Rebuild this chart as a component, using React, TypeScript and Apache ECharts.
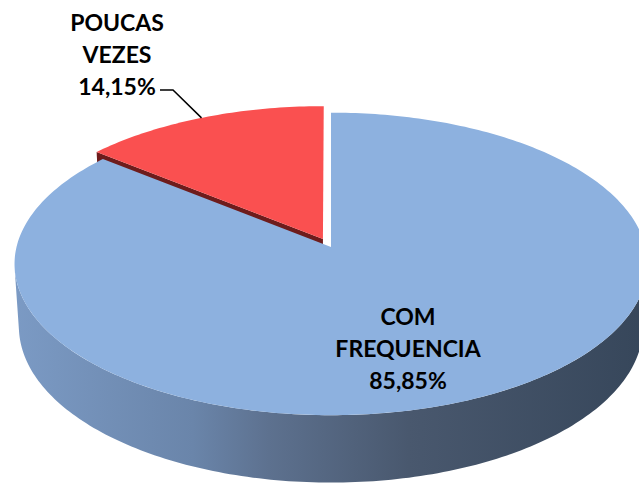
import React, { useEffect, useRef } from "react";
import * as echarts from "echarts";

// ---- data ----
const categories: string[] = ["COM\nFREQUENCIA", "POUCAS\nVEZES"];
const values: number[] = [85.85, 14.15];
const exploded: boolean[] = [false, true];
const topColors: string[] = ["#8DB1DF", "#FA5050"];
const cutColors: string[] = ["#4A5C76", "#6E1C1C"];

const fmt = (v: number) => v.toFixed(2).replace(".", ",") + "%";

export default function App() {
  const ref = useRef<HTMLDivElement>(null);

  useEffect(() => {
    document.body.style.margin = "0";
    if (!ref.current) return;
    const chart = echarts.init(ref.current, undefined, { renderer: "svg" });

    const cx = 331;
    const cy = 247;
    const tilt = Math.asin(0.475);
    const C = Math.cos(tilt);
    const S = Math.sin(tilt);
    const D = 7.87;
    const F = 2475;
    const H = 0.228;
    const EXPLODE = 0.06;
    const visThresh = (Math.asin(1 / (D * C)) * 180) / Math.PI;

    const project = (X: number, Y: number, Z: number): number[] => {
      const v = Y * S - Z * C;
      const depth = D - (Y * C + Z * S);
      return [cx + (F * X) / depth, cy + (F * v) / depth];
    };
    const rad = (d: number) => (d * Math.PI) / 180;

    const total = values.reduce((a, b) => a + b, 0);
    const slices = values.map((v, i) => {
      const cum = values.slice(0, i).reduce((a, b) => a + b, 0);
      const start = 270 + (360 * cum) / total;
      const end = start + (360 * v) / total;
      const mid = (start + end) / 2;
      const e = exploded[i] ? EXPLODE : 0;
      return { start, end, mid, ox: e * Math.cos(rad(mid)), oy: e * Math.sin(rad(mid)) };
    });
    const order = slices
      .map((s, i) => ({ i, y: s.oy + 0.001 * Math.sin(rad(s.mid)) }))
      .sort((a, b) => a.y - b.y)
      .map((o) => o.i);

    const arcPts = (s: any, a0: number, a1: number, Z: number) => {
      const pts: number[][] = [];
      const n = Math.max(2, Math.ceil(Math.abs(a1 - a0)));
      for (let k = 0; k <= n; k++) {
        const a = rad(a0 + ((a1 - a0) * k) / n);
        pts.push(project(s.ox + Math.cos(a), s.oy + Math.sin(a), Z));
      }
      return pts;
    };

    const wallGrad = new echarts.graphic.LinearGradient(
      15, 0, 650, 0,
      [
        { offset: 0, color: "#7B9AC4" },
        { offset: 0.28, color: "#6A85AA" },
        { offset: 0.4, color: "#5D718F" },
        { offset: 0.62, color: "#49586E" },
        { offset: 1, color: "#36465A" },
      ],
      true
    );
    const redWall = "#B03030";

    const renderItem = (params: any, api: any) => {
      const i = params.dataIndex;
      const s = slices[i];
      const rank = order.indexOf(i);
      const base = rank * 10;
      const children: any[] = [];

      for (let k = -1; k <= 2; k++) {
        const lo = Math.max(s.start, visThresh + 360 * k);
        const hi = Math.min(s.end, 180 - visThresh + 360 * k);
        if (hi > lo) {
          const top = arcPts(s, lo, hi, 0);
          const bot = arcPts(s, hi, lo, -H);
          children.push({
            type: "polygon",
            z2: base + 1,
            shape: { points: top.concat(bot) },
            style: { fill: i === 0 ? wallGrad : redWall },
          });
        }
      }

      const camY = D * C;
      const faces = [
        { a: s.start, nx: Math.sin(rad(s.start)), ny: -Math.cos(rad(s.start)) },
        { a: s.end, nx: -Math.sin(rad(s.end)), ny: Math.cos(rad(s.end)) },
      ];
      faces.forEach((fc) => {
        const dot = fc.nx * -s.ox + fc.ny * (camY - s.oy);
        if (dot > 0.05) {
          const ra = rad(fc.a);
          const rx = s.ox + Math.cos(ra);
          const ry = s.oy + Math.sin(ra);
          children.push({
            type: "polygon",
            z2: base + 2,
            shape: {
              points: [
                project(s.ox, s.oy, 0),
                project(rx, ry, 0),
                project(rx, ry, -H),
                project(s.ox, s.oy, -H),
              ],
            },
            style: { fill: cutColors[i] },
          });
        }
      });

      const topPts = [project(s.ox, s.oy, 0)].concat(arcPts(s, s.start, s.end, 0));
      children.push({
        type: "polygon",
        z2: base + 3,
        shape: { points: topPts },
        style: { fill: topColors[i] },
      });

      const labelText = categories[i] + "\n" + fmt(api.value(0));
      const labelStyle = {
        text: labelText,
        fill: "#000000",
        font: "bold 23px Lato",
        align: "center",
        verticalAlign: "middle",
        lineHeight: 32,
      };
      if (exploded[i]) {
        const m = rad(s.mid);
        const rim = project(s.ox + Math.cos(m), s.oy + Math.sin(m), 0);
        children.push({
          type: "polyline",
          z2: 100,
          shape: { points: [[160, 90], [173, 90], rim] },
          style: { stroke: "#000000", lineWidth: 1.5, fill: null },
        });
        children.push({ type: "text", z2: 101, x: 117, y: 54, style: labelStyle });
      } else {
        children.push({ type: "text", z2: 101, x: 408, y: 348, style: labelStyle });
      }

      return { type: "group", children };
    };

    chart.setOption({
      animation: false,
      series: [
        {
          type: "custom",
          coordinateSystem: "none",
          data: values.map((v) => [v]),
          renderItem,
        },
      ],
    });

    return () => chart.dispose();
  }, []);

  return <div ref={ref} style={{ width: 639, height: 486 }} />;
}
